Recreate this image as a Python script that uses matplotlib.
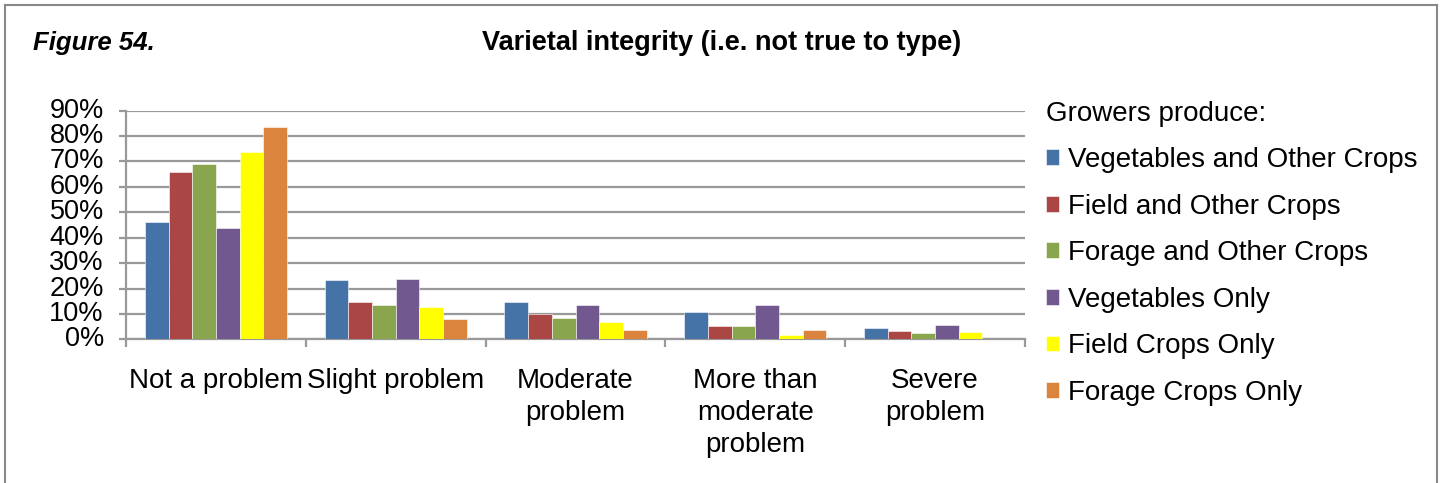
import matplotlib
matplotlib.use("Agg")
import matplotlib.pyplot as plt
import numpy as np
from matplotlib.ticker import PercentFormatter

plt.rcParams['font.family'] = ['Liberation Sans', 'DejaVu Sans']

categories = ["Not a problem", "Slight problem", "Moderate\nproblem",
              "More than\nmoderate\nproblem", "Severe\nproblem"]
series_names = ["Vegetables and Other Crops", "Field and Other Crops",
                "Forage and Other Crops", "Vegetables Only",
                "Field Crops Only", "Forage Crops Only"]
veg_other = [46.3, 23.2, 14.6, 10.9, 4.3]
field_other = [65.9, 14.7, 9.8, 5.4, 3.1]
forage_other = [68.9, 13.4, 8.5, 5.4, 2.4]
veg_only = [43.8, 23.8, 13.5, 13.5, 5.5]
field_only = [73.8, 12.7, 6.7, 1.7, 3.0]
forage_only = [83.5, 7.9, 3.7, 3.7, 0.0]
series_values = [veg_other, field_other, forage_other, veg_only, field_only, forage_only]
colors = ["#4572A7", "#AA4643", "#89A54E", "#71588F", "#FFFF00", "#DB843D"]
y_ticks = list(range(0, 91, 10))

W, H = 1443, 483
fig = plt.figure(figsize=(W / 100, H / 100), dpi=100)

# outer frame (open at the bottom)
frame_kw = dict(transform=fig.transFigure, color="#888888", lw=1.5)
fig.add_artist(plt.Line2D([5 / W, 5 / W], [0, 1 - 5 / H], **frame_kw))
fig.add_artist(plt.Line2D([1437 / W, 1437 / W], [0, 1 - 5 / H], **frame_kw))
fig.add_artist(plt.Line2D([5 / W, 1437 / W], [1 - 5 / H, 1 - 5 / H], **frame_kw))

left, right = 126, 1025
top, bottom = 110.7, 339.3
ax = fig.add_axes([left / W, 1 - bottom / H, (right - left) / W, (bottom - top) / H])

n_cat = len(categories)
n_ser = len(series_values)
x = np.arange(n_cat)
group_w = 0.79
bw = group_w / n_ser
for i, (vals, c, name) in enumerate(zip(series_values, colors, series_names)):
    offs = -group_w / 2 + bw * (i + 0.5)
    ax.bar(x + offs, vals, width=bw, color=c, label=name, zorder=3,
           edgecolor="white", linewidth=0.4)

ax.set_xlim(-0.5, n_cat - 0.5)
ax.set_ylim(0, 90)
ax.set_yticks(y_ticks)
ax.yaxis.set_major_formatter(PercentFormatter(decimals=0))
ax.grid(axis="y", color="#999999", lw=1.6, zorder=0)
ax.set_axisbelow(True)

for s in ["top", "right"]:
    ax.spines[s].set_visible(False)
for s in ["left", "bottom"]:
    ax.spines[s].set_color("#999999")
    ax.spines[s].set_linewidth(1.6)

# category boundaries as ticks, labels centered in each group
ax.set_xticks(np.arange(-0.5, n_cat, 1.0))
ax.set_xticklabels([])
ax.set_xticks(x, minor=True)
ax.set_xticklabels(categories, minor=True, fontsize=20, linespacing=1.3)
ax.tick_params(axis="x", which="major", length=6, color="#999999", width=1.6)
ax.tick_params(axis="x", which="minor", length=0, pad=21)
ax.tick_params(axis="y", length=5, color="#999999", width=1.6, labelsize=19.5, pad=11)
for lbl in ax.get_yticklabels():
    lbl.set_va("center")

fig.text(33 / W, 1 - 43 / H, "Figure 54.", fontsize=18.5, fontweight="bold",
         fontstyle="italic", va="center", ha="left")
fig.text(722 / W, 1 - 43 / H, "Varietal integrity (i.e. not true to type)",
         fontsize=19.5, fontweight="bold", va="center", ha="center")

leg = fig.legend(loc="upper left", bbox_to_anchor=(1040 / W, 1 - 95 / H),
                 frameon=False, fontsize=20, title="Growers produce:",
                 title_fontsize=20, handlelength=0.5, handleheight=0.5,
                 handletextpad=0.3, labelspacing=0.74, borderaxespad=0,
                 borderpad=0.2)
leg._legend_box.align = "left"

fig.savefig("out.png", dpi=100)
